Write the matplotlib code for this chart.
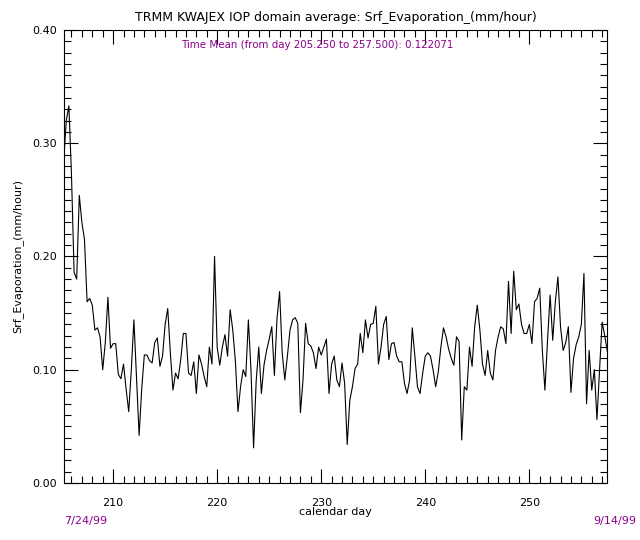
import numpy as np
from matplotlib import pyplot as plt
from matplotlib.ticker import MultipleLocator

# data (6-hourly, day 205.25 .. 257.50)
day_start = 205.25
day_end = 257.5
evaporation = [
    0.285, 0.320, 0.333, 0.272, 0.186, 0.180, 0.254, 0.230, 0.215, 0.160,
    0.163, 0.157, 0.135, 0.137, 0.129, 0.100, 0.124, 0.164, 0.119, 0.123,
    0.123, 0.096, 0.092, 0.105, 0.083, 0.063, 0.100, 0.144, 0.092, 0.042,
    0.083, 0.113, 0.113, 0.108, 0.106, 0.124, 0.128, 0.103, 0.112, 0.140,
    0.154, 0.115, 0.082, 0.097, 0.092, 0.109, 0.132, 0.132, 0.097, 0.095,
    0.107, 0.079, 0.113, 0.105, 0.094, 0.085, 0.120, 0.105, 0.200, 0.120,
    0.104, 0.120, 0.131, 0.112, 0.153, 0.135, 0.108, 0.063, 0.085, 0.100,
    0.094, 0.144, 0.100, 0.031, 0.090, 0.120, 0.079, 0.104, 0.117, 0.127,
    0.138, 0.095, 0.145, 0.169, 0.115, 0.091, 0.112, 0.135, 0.144, 0.146,
    0.141, 0.062, 0.091, 0.141, 0.123, 0.121, 0.115, 0.101, 0.120, 0.113,
    0.120, 0.127, 0.079, 0.105, 0.112, 0.091, 0.085, 0.106, 0.088, 0.034,
    0.073, 0.085, 0.101, 0.105, 0.132, 0.115, 0.144, 0.128, 0.140, 0.141,
    0.156, 0.105, 0.120, 0.140, 0.147, 0.109, 0.123, 0.124, 0.112, 0.107,
    0.107, 0.088, 0.079, 0.091, 0.137, 0.112, 0.085, 0.079, 0.097, 0.112,
    0.115, 0.112, 0.100, 0.085, 0.098, 0.120, 0.137, 0.129, 0.118, 0.110,
    0.104, 0.129, 0.125, 0.038, 0.085, 0.082, 0.120, 0.103, 0.138, 0.157,
    0.135, 0.105, 0.095, 0.117, 0.097, 0.091, 0.117, 0.129, 0.138, 0.136,
    0.123, 0.178, 0.132, 0.187, 0.153, 0.158, 0.140, 0.132, 0.132, 0.140,
    0.123, 0.160, 0.163, 0.172, 0.117, 0.082, 0.126, 0.166, 0.126, 0.160,
    0.182, 0.138, 0.117, 0.124, 0.138, 0.080, 0.110, 0.122, 0.129, 0.140,
    0.185, 0.070, 0.117, 0.082, 0.100, 0.056, 0.100, 0.142, 0.130, 0.116,
]
days = np.linspace(day_start, day_end, len(evaporation))

title = "TRMM KWAJEX IOP domain average: Srf_Evaporation_(mm/hour)"
mean_text = "Time Mean (from day 205.250 to 257.500): 0.122071"
ylabel = "Srf_Evaporation_(mm/hour)"
xlabel = "calendar day"
date_start = "7/24/99"
date_end = "9/14/99"

purple = "#8c008c"
font_size = 8

fig = plt.figure(figsize=(6.4, 5.4), dpi=100)
ax = fig.add_axes([0.0995, 0.1056, 0.8495, 0.8389])

ax.plot(days, evaporation, color="black", linewidth=0.8)

ax.set_xlim(day_start, day_end)
ax.set_ylim(0.0, 0.4)

# IDL-like ticks: inside, on all four sides
ax.xaxis.set_major_locator(MultipleLocator(10))
ax.xaxis.set_minor_locator(MultipleLocator(1))
ax.yaxis.set_major_locator(MultipleLocator(0.1))
ax.yaxis.set_minor_locator(MultipleLocator(0.01))
ax.yaxis.set_major_formatter(plt.FormatStrFormatter("%.2f"))
ax.tick_params(which="both", direction="in", top=True, right=True,
               labelsize=font_size, width=0.8, colors="black")
ax.tick_params(which="major", length=10, pad=5)
ax.tick_params(which="minor", length=5)
ax.tick_params(axis="x", which="major", pad=11)
for spine in ax.spines.values():
    spine.set_linewidth(0.8)

ax.set_xlabel(xlabel, fontsize=font_size, labelpad=-1)
ax.set_ylabel(ylabel, fontsize=font_size, labelpad=6)

fig.text(0.525, 0.968, title, fontsize=9.0, ha="center", va="center")
fig.text(0.283, 0.917, mean_text, fontsize=7.4, ha="left", va="center",
         color=purple)
fig.text(0.100, 0.036, date_start, fontsize=font_size, ha="left",
         va="center", color=purple)
fig.text(0.994, 0.036, date_end, fontsize=font_size, ha="right",
         va="center", color=purple)

fig.savefig("out.png", dpi=100, facecolor="white")
